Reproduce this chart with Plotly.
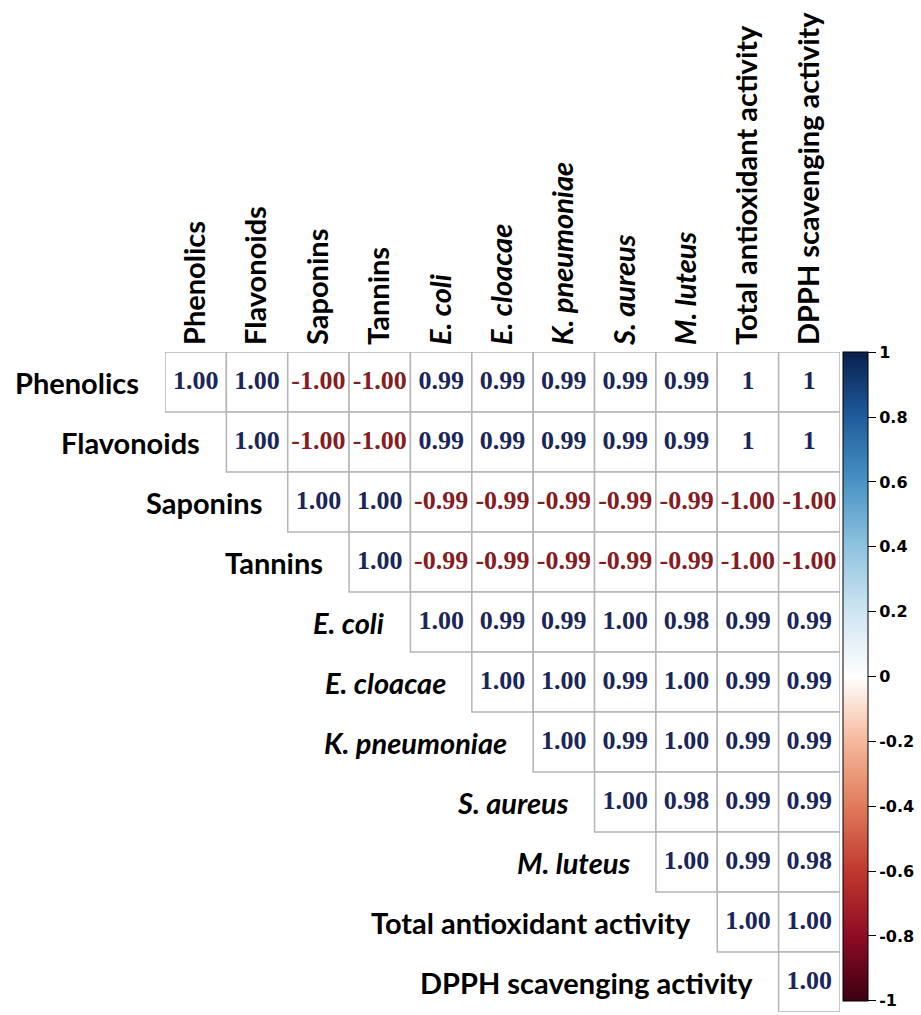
import plotly.graph_objects as go

variables = ["Phenolics", "Flavonoids", "Saponins", "Tannins", "E. coli", "E. cloacae",
             "K. pneumoniae", "S. aureus", "M. luteus", "Total antioxidant activity",
             "DPPH scavenging activity"]
italic = [False, False, False, False, True, True, True, True, True, False, False]

# upper-triangle correlation values (row i starts at the diagonal), as printed
phenolics = ["1.00", "1.00", "-1.00", "-1.00", "0.99", "0.99", "0.99", "0.99", "0.99", "1", "1"]
flavonoids = ["1.00", "-1.00", "-1.00", "0.99", "0.99", "0.99", "0.99", "0.99", "1", "1"]
saponins = ["1.00", "1.00", "-0.99", "-0.99", "-0.99", "-0.99", "-0.99", "-1.00", "-1.00"]
tannins = ["1.00", "-0.99", "-0.99", "-0.99", "-0.99", "-0.99", "-1.00", "-1.00"]
e_coli = ["1.00", "0.99", "0.99", "1.00", "0.98", "0.99", "0.99"]
e_cloacae = ["1.00", "1.00", "0.99", "1.00", "0.99", "0.99"]
k_pneumoniae = ["1.00", "0.99", "1.00", "0.99", "0.99"]
s_aureus = ["1.00", "0.98", "0.99", "0.99"]
m_luteus = ["1.00", "0.99", "0.98"]
total_antiox = ["1.00", "1.00"]
dpph = ["1.00"]
rows = [phenolics, flavonoids, saponins, tannins, e_coli, e_cloacae, k_pneumoniae,
        s_aureus, m_luteus, total_antiox, dpph]

cb_ticks = [1, 0.8, 0.6, 0.4, 0.2, 0, -0.2, -0.4, -0.6, -0.8, -1]
cb_text = ["1", "0.8", "0.6", "0.4", "0.2", "0", "-0.2", "-0.4", "-0.6", "-0.8", "-1"]

corr_scale = [[0.0, "#3b0010"], [0.1, "#8e0c25"], [0.2, "#c0392f"], [0.3, "#e07a5b"],
              [0.4, "#f6b89b"], [0.5, "#ffffff"], [0.6, "#cfe5f1"], [0.7, "#8fc3de"],
              [0.8, "#4a93c4"], [0.9, "#1f5c9c"], [1.0, "#0a1f4e"]]

xs, ys, texts, vals, tcolors = [], [], [], [], []
for i, row in enumerate(rows):
    for k, s in enumerate(row):
        j = i + k
        v = float(s)
        xs.append(j)
        ys.append(i)
        texts.append("<b>" + s + "</b>")
        vals.append(v)
        tcolors.append("#1a2659" if v >= 0 else "#861c22")

fig = go.Figure()

shapes = []
for x, y in zip(xs, ys):
    shapes.append(dict(type="rect", xref="x", yref="y", x0=x - 0.5, x1=x + 0.5,
                       y0=y - 0.5, y1=y + 0.5, line=dict(color="#b5b5b5", width=1.5),
                       fillcolor="white", layer="below"))

fig.add_trace(go.Scatter(
    x=xs, y=ys, mode="markers+text", text=texts,
    textposition="middle center",
    textfont=dict(family="Liberation Serif", size=26, color=tcolors),
    marker=dict(size=2, opacity=0, color=vals, colorscale=corr_scale, cmin=-1.0005, cmax=1.0005,
                showscale=True,
                colorbar=dict(thickness=25, x=1.004, xanchor="left", xpad=0,
                              len=0.984, lenmode="fraction", y=1, yanchor="top", ypad=0,
                              outlinewidth=1, outlinecolor="black",
                              ticks="outside", ticklen=8, tickcolor="black",
                              ticklabeloverflow="allow",
                              tickmode="array",
                              tickvals=cb_ticks, ticktext=cb_text,
                              tickfont=dict(family="DejaVu Sans", size=16, color="black",
                                            weight="bold"))),
    hoverinfo="skip", showlegend=False, cliponaxis=False))

def fmt(name, it):
    return "<b><i>" + name + "</i></b>" if it else "<b>" + name + "</b>"

annotations = []
for i, (name, it) in enumerate(zip(variables, italic)):
    annotations.append(dict(x=i - 0.5, y=i, xref="x", yref="y", text=fmt(name, it),
                            showarrow=False, xanchor="right", yanchor="middle", xshift=-24,
                            font=dict(family="Lato", size=29, color="black")))

fig.update_layout(
    width=921, height=1015,
    margin=dict(l=165, r=81, t=352, b=3),
    paper_bgcolor="white", plot_bgcolor="white",
    shapes=shapes, annotations=annotations,
    xaxis=dict(range=[-0.5, 10.5], side="top", tickmode="array",
               tickvals=list(range(len(variables))),
               ticktext=[fmt(n, it) for n, it in zip(variables, italic)],
               tickangle=-90, showgrid=False, zeroline=False, showline=False,
               ticks="", ticklabelstandoff=6,
               tickfont=dict(family="Lato", size=29, color="black"), fixedrange=True),
    yaxis=dict(range=[10.5, -0.5], visible=False, showgrid=False, zeroline=False,
               fixedrange=True),
)

fig.write_html("out.html")
